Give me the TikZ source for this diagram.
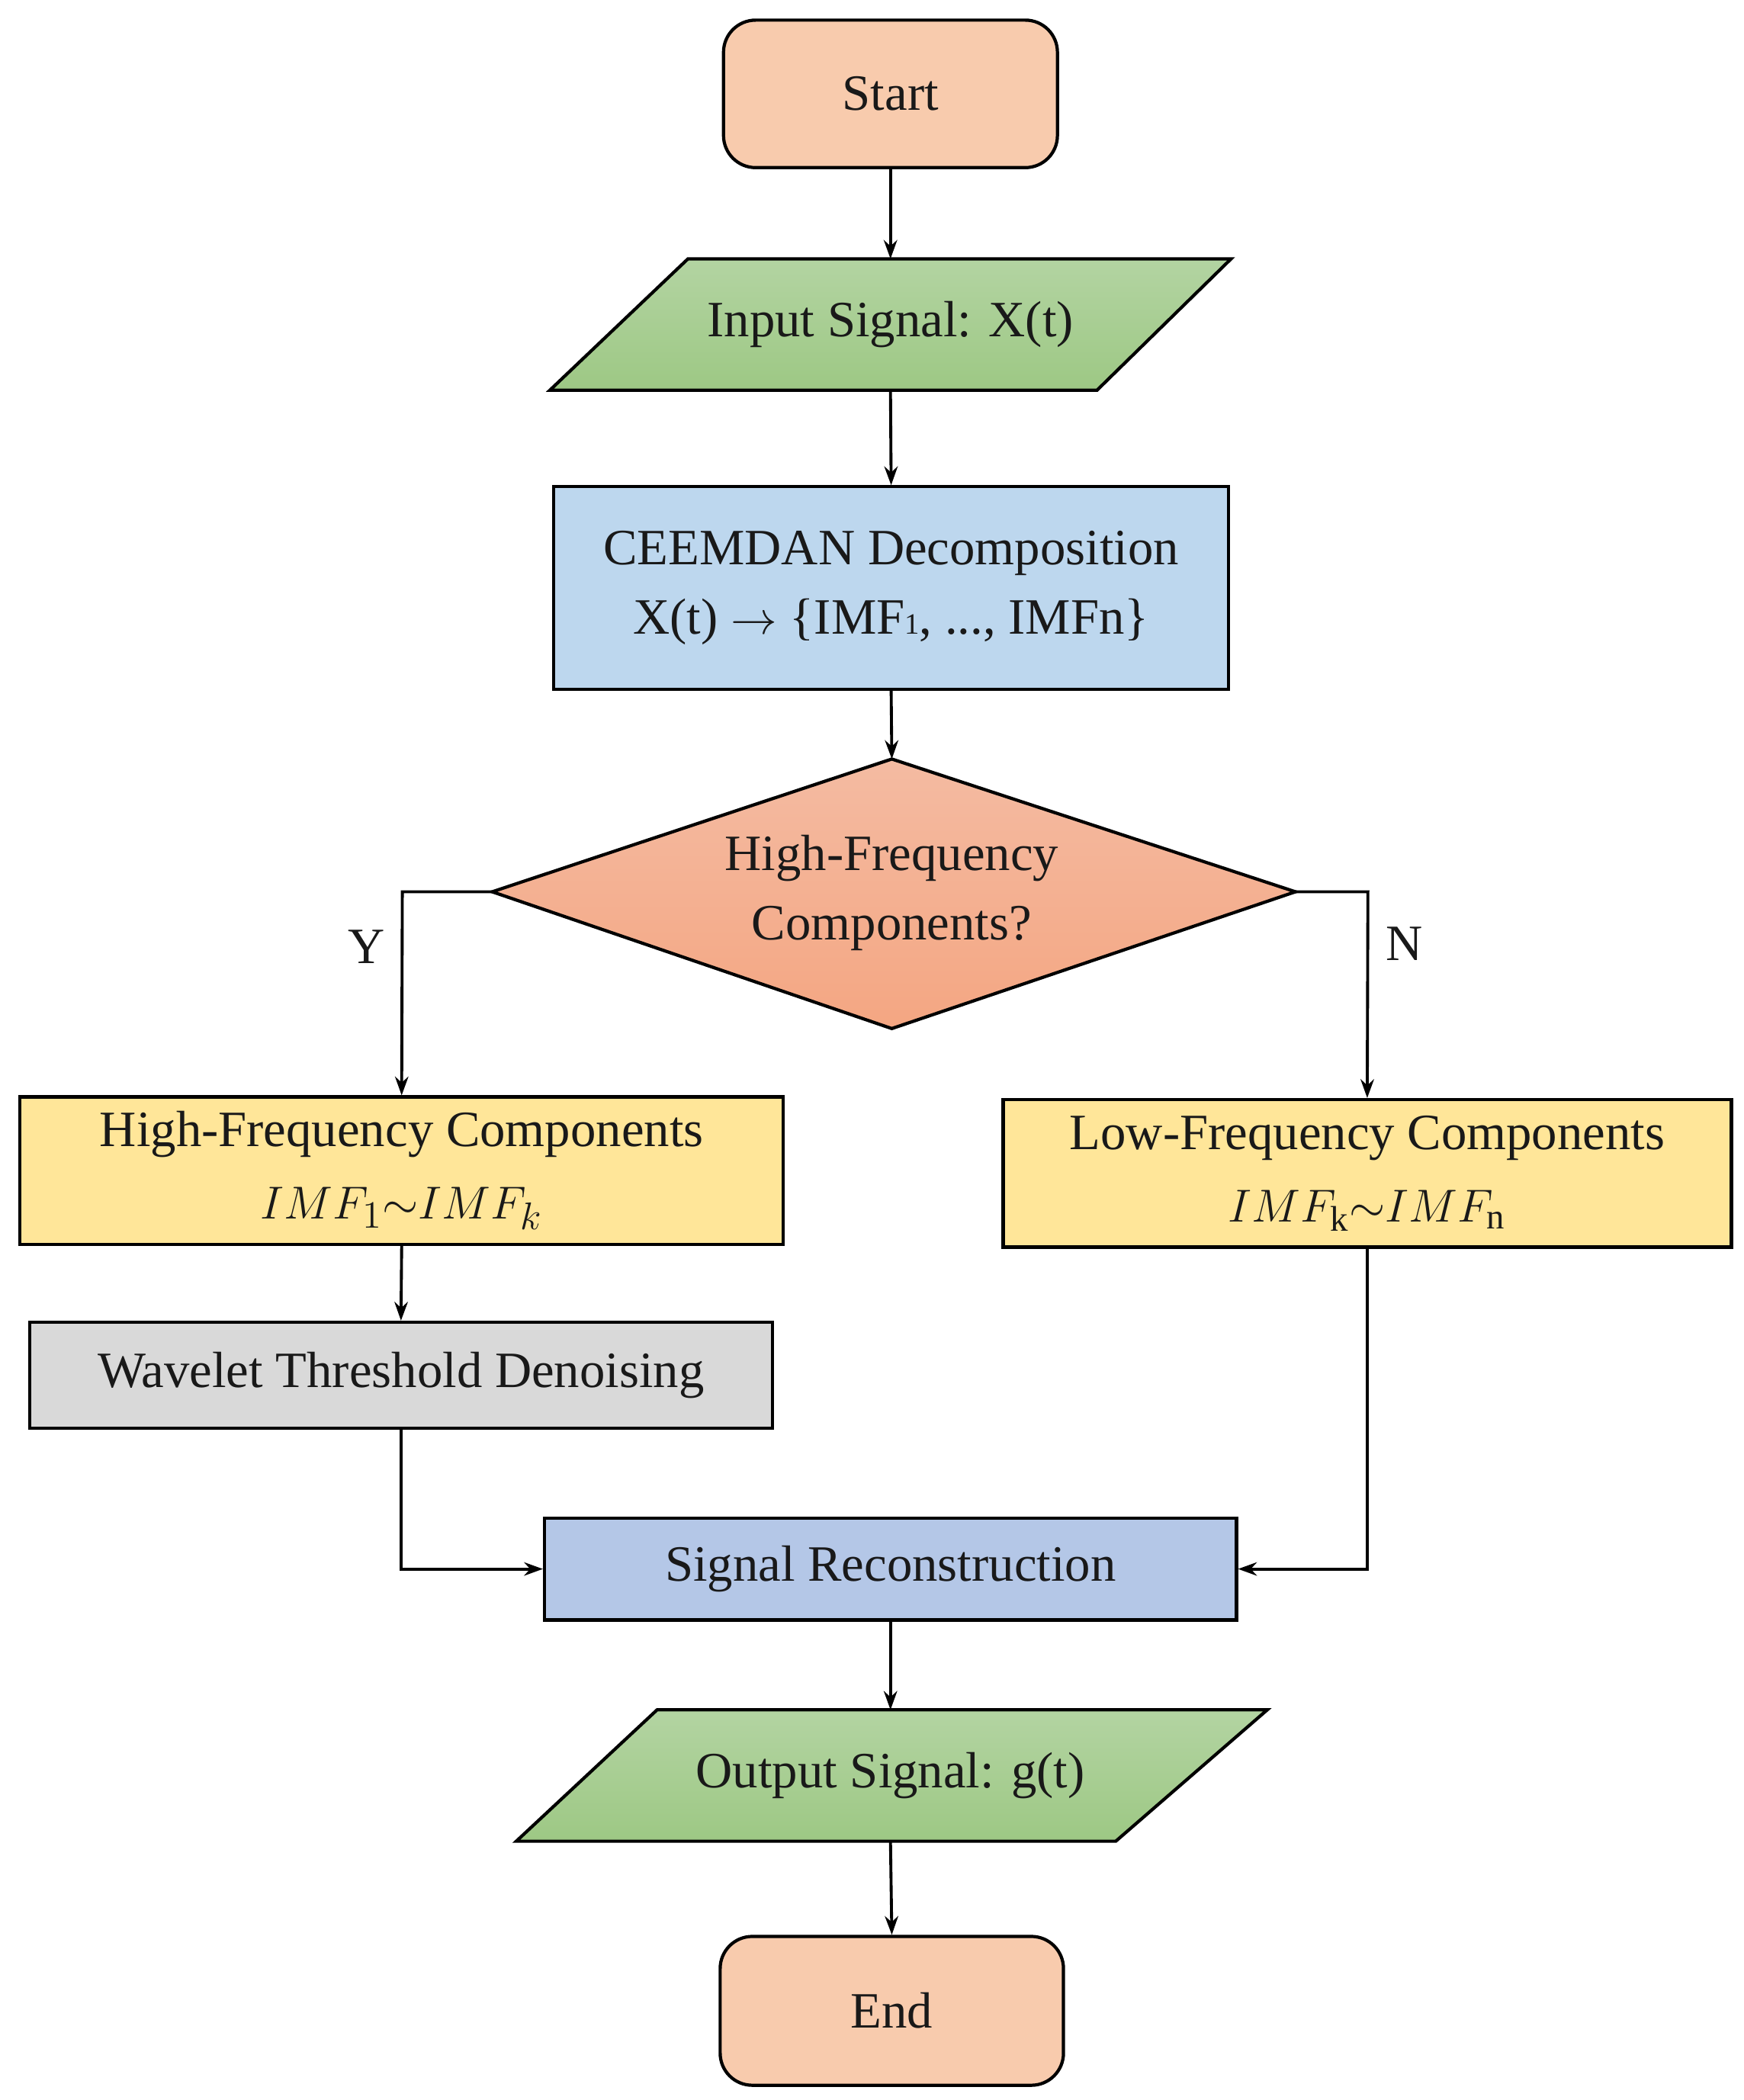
\documentclass[tikz,border=0pt]{standalone}
\usepackage{fontspec}
\setmainfont{Liberation Serif}
\usetikzlibrary{shapes.geometric,arrows.meta}
\definecolor{cstart}{HTML}{F8CBAD}
\definecolor{cgt}{HTML}{B3D4A2}
\definecolor{cgb}{HTML}{9DC884}
\definecolor{cblue}{HTML}{BDD7EE}
\definecolor{cdt}{HTML}{F4BBA2}
\definecolor{cdb}{HTML}{F4A682}
\definecolor{cyel}{HTML}{FFE699}
\definecolor{cgray}{HTML}{D9D9D9}
\definecolor{crec}{HTML}{B4C7E7}
\begin{document}
\begin{tikzpicture}[x=0.01759cm,y=-0.01759cm,
  every node/.style={font=\fontsize{19}{24}\selectfont, text=black!90},
  shp/.style={draw=black, line width=1.2pt},
  arr/.style={-{Stealth[length=7pt,width=5pt]}, line width=1.1pt},
  lnk/.style={line width=1.1pt}]
\useasboundingbox (0,0) rectangle (1300,1566);
% Start
\node[shp, rounded corners=12pt, fill=cstart, minimum width=249*0.01759cm, minimum height=110*0.01759cm] (start) at (664,70) {Start};
% Input
\draw[shp, top color=cgt, bottom color=cgb] (513,193) -- (918,193) -- (818,291) -- (410,291) -- cycle;
\node (in) at (664,242) {Input Signal: X(t)};
\coordinate (inT) at (664,193); \coordinate (inB) at (664,291);
% CEEMDAN
\node[shp, fill=cblue, minimum width=503*0.01759cm, minimum height=151*0.01759cm, align=center] (ce) at (664.5,438.5) {CEEMDAN Decomposition\\[2pt] X(t) $\rightarrow$ \{IMF{\fontsize{11}{11}\selectfont 1}, ..., IMFn\}};
% Diamond
\draw[shp, top color=cdt, bottom color=cdb] (665,566) -- (966,665) -- (665,767) -- (367,665) -- cycle;
\node[align=center] (dia) at (665,666) {High-Frequency\\[2pt] Components?};
\coordinate (dT) at (665,566); \coordinate (dL) at (367,665); \coordinate (dR) at (966,665);
% HF / LF
\node[shp, fill=cyel, minimum width=569*0.01759cm, minimum height=110*0.01759cm, align=center] (hf) at (299.5,873) {High-Frequency Components\\[3pt] $IMF_1{\sim}IMF_k$};
\node[shp, fill=cyel, minimum width=543*0.01759cm, minimum height=110*0.01759cm, align=center] (lf) at (1019.5,875) {Low-Frequency Components\\[3pt] $IMF_{\mathrm{k}}{\sim}IMF_{\mathrm{n}}$};
% Wavelet
\node[shp, fill=cgray, minimum width=554*0.01759cm, minimum height=79*0.01759cm] (wt) at (299,1025.5) {Wavelet Threshold Denoising};
% Reconstruction
\node[shp, fill=crec, minimum width=516*0.01759cm, minimum height=76*0.01759cm] (rec) at (664,1170) {Signal Reconstruction};
% Output
\draw[shp, top color=cgt, bottom color=cgb] (490,1275) -- (945,1275) -- (832,1373) -- (385,1373) -- cycle;
\node (out) at (664,1324) {Output Signal: g(t)};
\coordinate (oT) at (664,1275); \coordinate (oB) at (664,1373);
% End
\node[shp, rounded corners=12pt, fill=cstart, minimum width=256*0.01759cm, minimum height=111*0.01759cm] (end) at (665,1499.5) {End};
% connectors
\draw[arr] (start.south) -- (inT);
\draw[arr] (inB) -- (ce.north);
\draw[arr] (ce.south) -- (dT);
\draw[arr] (dL) -- (300,665) -- (hf.north);
\draw[arr] (dR) -- (1020,665) -- (lf.north);
\draw[arr] (hf.south) -- (wt.north);
\draw[arr] (wt.south) |- (rec.west);
\draw[arr] (lf.south) |- (rec.east);
\draw[arr] (rec.south) -- (oT);
\draw[arr] (oB) -- (end.north);
\node (y) at (273,706) {Y};
\node (n) at (1047,704) {N};
\end{tikzpicture}
\end{document}
